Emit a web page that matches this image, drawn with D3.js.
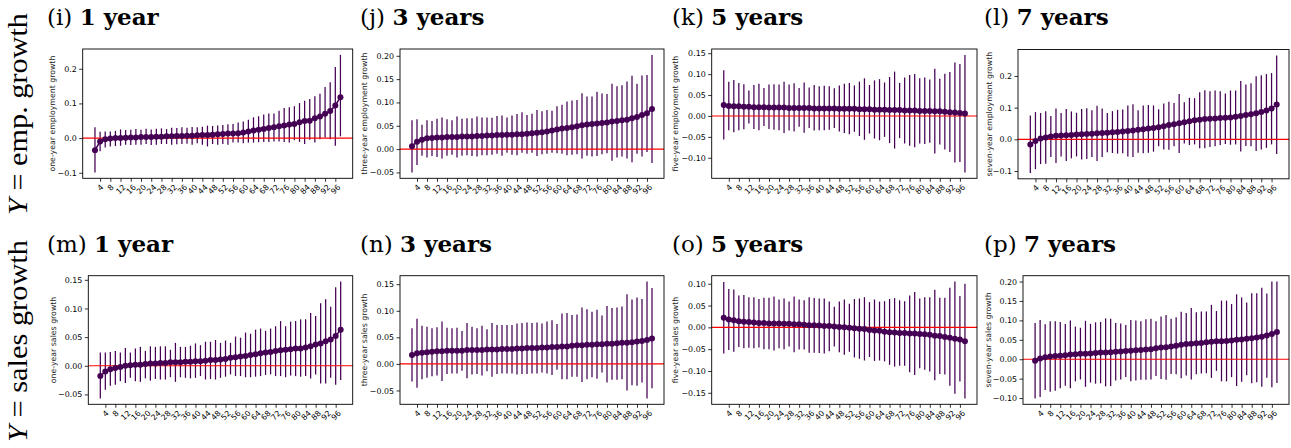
<!DOCTYPE html>
<html>
<head>
<meta charset="utf-8">
<script src="https://cdn.jsdelivr.net/npm/d3@7"></script>
<style>
  body { margin: 0; background: #fff; }
  svg { display: block; }
</style>
</head>
<body>
<svg id="vis" width="1291" height="448"></svg>
<script>
// percentile bins on the x axis
const percentiles = [2,4,6,8,10,12,14,16,18,20,22,24,26,28,30,32,34,36,38,40,
  42,44,46,48,50,52,54,56,58,60,62,64,66,68,70,72,74,76,78,80,
  82,84,86,88,90,92,94,96,98];
const xTicks = [4,8,12,16,20,24,28,32,36,40,44,48,52,56,60,64,68,72,76,80,84,88,92,96];

// Y = employment growth, 1 year
const emp1Mid = [-0.035,-0.010,-0.003,-0.001,0.000,0.000,0.001,0.002,0.002,0.003,
  0.003,0.003,0.004,0.004,0.005,0.005,0.006,0.006,0.007,0.007,
  0.008,0.009,0.009,0.010,0.011,0.012,0.013,0.013,0.014,0.016,
  0.019,0.022,0.024,0.026,0.029,0.031,0.034,0.036,0.039,0.041,
  0.046,0.049,0.050,0.057,0.062,0.070,0.078,0.094,0.118];
const emp1Hi = [0.031,0.018,0.019,0.019,0.021,0.025,0.023,0.024,0.026,0.024,
  0.027,0.025,0.027,0.028,0.026,0.030,0.029,0.031,0.030,0.032,
  0.031,0.033,0.036,0.035,0.036,0.038,0.040,0.041,0.045,0.048,
  0.053,0.060,0.063,0.068,0.071,0.071,0.079,0.087,0.089,0.092,
  0.101,0.108,0.113,0.121,0.128,0.147,0.161,0.205,0.240];
const emp1Lo = [-0.099,-0.038,-0.027,-0.024,-0.023,-0.022,-0.019,-0.020,-0.019,-0.019,
  -0.017,-0.020,-0.019,-0.017,-0.017,-0.019,-0.018,-0.017,-0.016,-0.019,
  -0.015,-0.019,-0.024,-0.017,-0.019,-0.017,-0.019,-0.013,-0.013,-0.015,
  -0.013,-0.013,-0.012,-0.011,-0.011,-0.010,-0.010,-0.011,-0.013,-0.006,
  -0.011,-0.017,-0.005,-0.013,-0.003,0.002,-0.003,-0.022,0.005];

// Y = employment growth, 3 years
const emp3Mid = [0.006,0.016,0.020,0.023,0.024,0.025,0.025,0.026,0.026,0.026,
  0.027,0.027,0.027,0.028,0.028,0.029,0.029,0.030,0.030,0.031,
  0.031,0.032,0.032,0.033,0.034,0.035,0.036,0.038,0.040,0.042,
  0.044,0.045,0.047,0.049,0.051,0.053,0.054,0.055,0.056,0.057,
  0.059,0.060,0.062,0.063,0.066,0.069,0.073,0.077,0.086];
const emp3Hi = [0.062,0.064,0.052,0.062,0.060,0.065,0.068,0.064,0.062,0.070,
  0.065,0.066,0.066,0.070,0.068,0.068,0.067,0.071,0.072,0.068,
  0.072,0.075,0.079,0.073,0.076,0.084,0.081,0.084,0.082,0.092,
  0.095,0.102,0.104,0.105,0.120,0.113,0.113,0.123,0.119,0.118,
  0.140,0.135,0.137,0.145,0.157,0.140,0.158,0.159,0.202];
const emp3Lo = [-0.050,-0.034,-0.014,-0.018,-0.015,-0.017,-0.020,-0.014,-0.012,-0.018,
  -0.014,-0.013,-0.015,-0.016,-0.013,-0.013,-0.012,-0.010,-0.014,-0.008,
  -0.012,-0.013,-0.008,-0.010,-0.008,-0.015,-0.011,-0.010,-0.008,-0.009,
  -0.010,-0.013,-0.012,-0.011,-0.020,-0.014,-0.016,-0.015,-0.011,-0.009,
  -0.025,-0.018,-0.016,-0.020,-0.028,-0.010,-0.016,-0.006,-0.030];

// Y = employment growth, 5 years
const emp5Mid = [0.026,0.024,0.023,0.023,0.022,0.022,0.021,0.021,0.021,0.020,
  0.020,0.020,0.020,0.019,0.019,0.019,0.019,0.019,0.018,0.018,
  0.018,0.018,0.018,0.017,0.017,0.017,0.017,0.016,0.016,0.016,
  0.015,0.015,0.015,0.014,0.014,0.014,0.013,0.013,0.013,0.012,
  0.012,0.012,0.011,0.011,0.010,0.009,0.008,0.007,0.006];
const emp5Hi = [0.109,0.082,0.086,0.079,0.076,0.061,0.074,0.077,0.067,0.075,
  0.076,0.075,0.082,0.075,0.078,0.067,0.080,0.068,0.074,0.071,
  0.072,0.071,0.066,0.073,0.077,0.079,0.073,0.082,0.090,0.074,
  0.085,0.088,0.080,0.093,0.106,0.079,0.092,0.098,0.100,0.090,
  0.092,0.087,0.113,0.089,0.101,0.105,0.128,0.124,0.146];
const emp5Lo = [-0.056,-0.034,-0.039,-0.034,-0.032,-0.018,-0.031,-0.034,-0.024,-0.031,
  -0.033,-0.034,-0.041,-0.035,-0.037,-0.026,-0.040,-0.029,-0.035,-0.034,
  -0.034,-0.033,-0.029,-0.037,-0.041,-0.044,-0.038,-0.048,-0.057,-0.042,
  -0.054,-0.058,-0.050,-0.065,-0.078,-0.053,-0.066,-0.071,-0.075,-0.066,
  -0.067,-0.064,-0.090,-0.068,-0.080,-0.086,-0.111,-0.110,-0.135];

// Y = employment growth, 7 years
const emp7Mid = [-0.016,-0.005,0.003,0.006,0.009,0.011,0.012,0.013,0.014,0.015,
  0.016,0.017,0.018,0.019,0.020,0.021,0.022,0.023,0.025,0.026,
  0.028,0.030,0.032,0.034,0.036,0.038,0.041,0.045,0.048,0.051,
  0.054,0.057,0.060,0.062,0.064,0.065,0.066,0.067,0.068,0.069,
  0.071,0.074,0.077,0.079,0.082,0.086,0.091,0.097,0.110];
const emp7Hi = [0.075,0.086,0.083,0.089,0.074,0.097,0.083,0.096,0.088,0.084,
  0.096,0.098,0.092,0.106,0.097,0.083,0.089,0.093,0.094,0.107,
  0.111,0.092,0.107,0.108,0.107,0.095,0.113,0.119,0.115,0.143,
  0.117,0.131,0.130,0.149,0.155,0.152,0.154,0.152,0.145,0.154,
  0.154,0.184,0.173,0.177,0.199,0.202,0.206,0.209,0.265];
const emp7Lo = [-0.106,-0.094,-0.078,-0.077,-0.056,-0.075,-0.054,-0.068,-0.060,-0.054,
  -0.064,-0.062,-0.056,-0.068,-0.056,-0.041,-0.043,-0.045,-0.044,-0.054,
  -0.056,-0.042,-0.044,-0.042,-0.039,-0.022,-0.032,-0.033,-0.022,-0.043,
  -0.013,-0.018,-0.016,-0.028,-0.028,-0.024,-0.022,-0.018,-0.015,-0.017,
  -0.016,-0.038,-0.021,-0.022,-0.037,-0.032,-0.027,-0.016,-0.046];

// Y = sales growth, 1 year
const sal1Mid = [-0.018,-0.010,-0.006,-0.004,-0.002,0.000,0.001,0.002,0.002,0.003,
  0.004,0.004,0.005,0.005,0.006,0.006,0.006,0.007,0.007,0.008,
  0.008,0.009,0.010,0.010,0.011,0.012,0.014,0.015,0.016,0.017,
  0.019,0.020,0.022,0.023,0.024,0.026,0.027,0.028,0.029,0.030,
  0.030,0.032,0.034,0.037,0.039,0.043,0.046,0.052,0.063];
const sal1Hi = [0.023,0.023,0.024,0.026,0.023,0.031,0.023,0.030,0.033,0.026,
  0.034,0.033,0.034,0.034,0.028,0.040,0.033,0.033,0.035,0.039,
  0.036,0.042,0.042,0.045,0.040,0.044,0.040,0.051,0.049,0.058,
  0.056,0.063,0.065,0.061,0.065,0.069,0.078,0.069,0.077,0.078,
  0.081,0.081,0.092,0.087,0.109,0.116,0.103,0.137,0.147];
const sal1Lo = [-0.057,-0.042,-0.035,-0.033,-0.027,-0.030,-0.021,-0.027,-0.028,-0.022,
  -0.026,-0.023,-0.024,-0.024,-0.020,-0.028,-0.020,-0.021,-0.022,-0.021,
  -0.018,-0.024,-0.023,-0.024,-0.021,-0.019,-0.015,-0.018,-0.018,-0.020,
  -0.020,-0.019,-0.018,-0.016,-0.015,-0.018,-0.018,-0.020,-0.017,-0.018,
  -0.019,-0.018,-0.022,-0.015,-0.031,-0.031,-0.021,-0.033,-0.025];

// Y = sales growth, 3 years
const sal3Mid = [0.017,0.020,0.021,0.022,0.023,0.024,0.024,0.025,0.025,0.025,
  0.025,0.026,0.026,0.026,0.026,0.027,0.027,0.027,0.028,0.028,
  0.028,0.029,0.029,0.030,0.030,0.030,0.031,0.031,0.032,0.032,
  0.033,0.033,0.034,0.035,0.035,0.036,0.036,0.037,0.037,0.038,
  0.038,0.039,0.040,0.040,0.041,0.042,0.043,0.045,0.048];
const sal3Hi = [0.067,0.085,0.072,0.070,0.067,0.069,0.080,0.068,0.067,0.068,
  0.062,0.077,0.070,0.067,0.072,0.065,0.077,0.073,0.073,0.073,
  0.073,0.076,0.077,0.078,0.077,0.078,0.076,0.080,0.082,0.075,
  0.095,0.096,0.092,0.093,0.106,0.103,0.098,0.102,0.091,0.109,
  0.105,0.106,0.108,0.131,0.121,0.125,0.122,0.155,0.143];
const sal3Lo = [-0.033,-0.045,-0.029,-0.026,-0.023,-0.022,-0.032,-0.019,-0.018,-0.018,
  -0.013,-0.027,-0.020,-0.019,-0.022,-0.014,-0.024,-0.019,-0.018,-0.018,
  -0.018,-0.020,-0.019,-0.019,-0.018,-0.018,-0.016,-0.018,-0.021,-0.011,
  -0.029,-0.029,-0.024,-0.024,-0.034,-0.029,-0.025,-0.028,-0.016,-0.035,
  -0.030,-0.030,-0.029,-0.050,-0.040,-0.041,-0.035,-0.065,-0.046];

// Y = sales growth, 5 years
const sal5Mid = [0.022,0.018,0.016,0.014,0.013,0.012,0.011,0.010,0.010,0.009,
  0.009,0.009,0.008,0.008,0.007,0.007,0.006,0.005,0.005,0.004,
  0.003,0.003,0.002,0.001,0.000,-0.001,-0.002,-0.003,-0.004,-0.006,
  -0.007,-0.008,-0.010,-0.011,-0.012,-0.013,-0.013,-0.014,-0.014,-0.015,
  -0.016,-0.017,-0.019,-0.020,-0.022,-0.024,-0.026,-0.028,-0.032];
const sal5Hi = [0.104,0.088,0.087,0.073,0.074,0.069,0.069,0.065,0.068,0.068,
  0.071,0.064,0.066,0.059,0.071,0.064,0.062,0.069,0.067,0.066,
  0.066,0.059,0.047,0.059,0.064,0.054,0.065,0.066,0.069,0.058,
  0.064,0.059,0.060,0.065,0.067,0.062,0.060,0.073,0.081,0.066,
  0.069,0.069,0.086,0.068,0.068,0.091,0.105,0.072,0.100];
const sal5Lo = [-0.060,-0.052,-0.056,-0.045,-0.048,-0.047,-0.048,-0.046,-0.050,-0.050,
  -0.053,-0.048,-0.050,-0.044,-0.057,-0.051,-0.051,-0.058,-0.058,-0.059,
  -0.060,-0.055,-0.044,-0.057,-0.063,-0.056,-0.069,-0.072,-0.076,-0.068,
  -0.077,-0.076,-0.078,-0.086,-0.090,-0.088,-0.088,-0.103,-0.109,-0.094,
  -0.097,-0.101,-0.121,-0.107,-0.108,-0.134,-0.152,-0.124,-0.163];

// Y = sales growth, 7 years
const sal7Mid = [-0.004,0.002,0.005,0.007,0.008,0.009,0.010,0.012,0.013,0.014,
  0.014,0.015,0.016,0.017,0.017,0.018,0.019,0.020,0.021,0.022,
  0.023,0.024,0.025,0.026,0.028,0.030,0.031,0.033,0.035,0.037,
  0.039,0.040,0.041,0.042,0.044,0.045,0.046,0.046,0.047,0.048,
  0.050,0.051,0.053,0.054,0.056,0.058,0.061,0.065,0.070];
const sal7Hi = [0.093,0.101,0.090,0.098,0.098,0.096,0.091,0.100,0.084,0.081,
  0.099,0.091,0.095,0.096,0.105,0.104,0.093,0.092,0.088,0.101,
  0.100,0.098,0.103,0.104,0.098,0.110,0.114,0.104,0.108,0.122,
  0.119,0.132,0.121,0.123,0.123,0.140,0.124,0.151,0.151,0.142,
  0.167,0.159,0.146,0.170,0.170,0.184,0.169,0.200,0.200];
const sal7Lo = [-0.101,-0.097,-0.079,-0.084,-0.081,-0.075,-0.068,-0.075,-0.057,-0.052,
  -0.071,-0.060,-0.063,-0.062,-0.070,-0.069,-0.055,-0.052,-0.046,-0.057,
  -0.055,-0.053,-0.053,-0.052,-0.043,-0.051,-0.053,-0.038,-0.039,-0.049,
  -0.042,-0.052,-0.039,-0.037,-0.036,-0.048,-0.030,-0.057,-0.057,-0.046,
  -0.069,-0.058,-0.041,-0.062,-0.059,-0.071,-0.048,-0.072,-0.061];

// y tick labels of each panel
const ticksA = [-0.1, 0.0, 0.1, 0.2];
const ticksB = [-0.05, 0.00, 0.05, 0.10, 0.15, 0.20];
const ticksC = [-0.10, -0.05, 0.00, 0.05, 0.10, 0.15];
const ticksD = [-0.05, 0.00, 0.05, 0.10, 0.15];
const ticksE = [-0.15, -0.10, -0.05, 0.00, 0.05, 0.10];
const ticksF = [-0.10, -0.05, 0.00, 0.05, 0.10, 0.15, 0.20];

const rowLabels = ["emp. growth", "sales growth"];

const panels = [
  {tag: "(i)", head: "1 year", ylab: "one-year employment growth", mid: emp1Mid, lo: emp1Lo, hi: emp1Hi, ticks: ticksA, fmt: ".1f",
   box: [82.7, 49, 352.7, 178.3], labX: 52.3, tx: 47, ty: 25},
  {tag: "(j)", head: "3 years", ylab: "three-year employment growth", mid: emp3Mid, lo: emp3Lo, hi: emp3Hi, ticks: ticksB, fmt: ".2f",
   box: [400, 49, 664, 178.3], labX: 364.3, tx: 360, ty: 25},
  {tag: "(k)", head: "5 years", ylab: "five-year employment growth", mid: emp5Mid, lo: emp5Lo, hi: emp5Hi, ticks: ticksC, fmt: ".2f",
   box: [711.7, 49, 977, 178.3], labX: 675, tx: 672, ty: 25},
  {tag: "(l)", head: "7 years", ylab: "seven-year employment growth", mid: emp7Mid, lo: emp7Lo, hi: emp7Hi, ticks: ticksA, fmt: ".1f",
   box: [1018, 49.5, 1289, 178.8], labX: 989, tx: 984, ty: 25},
  {tag: "(m)", head: "1 year", ylab: "one-year sales growth", mid: sal1Mid, lo: sal1Lo, hi: sal1Hi, ticks: ticksD, fmt: ".2f",
   box: [88.3, 275.7, 352.7, 404.3], labX: 53.3, tx: 47, ty: 252},
  {tag: "(n)", head: "3 years", ylab: "three-year sales growth", mid: sal3Mid, lo: sal3Lo, hi: sal3Hi, ticks: ticksD, fmt: ".2f",
   box: [400, 275.7, 664, 404.3], labX: 364.3, tx: 360, ty: 252},
  {tag: "(o)", head: "5 years", ylab: "five-year sales growth", mid: sal5Mid, lo: sal5Lo, hi: sal5Hi, ticks: ticksE, fmt: ".2f",
   box: [711.7, 275.7, 977, 404.3], labX: 675, tx: 672, ty: 252},
  {tag: "(p)", head: "7 years", ylab: "seven-year sales growth", mid: sal7Mid, lo: sal7Lo, hi: sal7Hi, ticks: ticksF, fmt: ".2f",
   box: [1023, 275.7, 1289, 404.3], labX: 988.3, tx: 984, ty: 252}
];

const purple = "#440154";
const sans = "DejaVu Sans";
const svg = d3.select("#vis");

// row labels on the far left
[{y: 114, text: rowLabels[0]}, {y: 341, text: rowLabels[1]}].forEach(r => {
  let t = svg.append("text")
    .attr("transform", `translate(27,${r.y}) rotate(-90)`)
    .attr("text-anchor", "middle")
    .attr("font-family", "Liberation Serif")
    .attr("font-size", 27)
    .attr("textLength", 202)
    .attr("lengthAdjust", "spacingAndGlyphs");
  t.append("tspan").attr("font-style", "italic").text("Y");
  t.append("tspan").text(" = " + r.text);
});

panels.forEach(drawPanel);

function drawPanel(p) {
  let [x0, y0, x1, y1] = p.box;
  let g = svg.append("g");

  let x = d3.scaleLinear().domain([-2.8, 102.8]).range([x0, x1]);
  // matplotlib style 5% margin around the error bars
  let lo = d3.min(p.lo), hi = d3.max(p.hi), pad = (hi - lo) * 0.05;
  let y = d3.scaleLinear().domain([lo - pad, hi + pad]).range([y1, y0]);

  // title
  let title = g.append("text")
    .attr("x", p.tx).attr("y", p.ty)
    .attr("font-family", "DejaVu Serif")
    .attr("font-size", 23);
  title.append("tspan").text(p.tag + " ");
  title.append("tspan").attr("font-weight", "bold").text(p.head);

  // error bars
  g.append("g").selectAll("line")
    .data(percentiles)
    .join("line")
    .attr("x1", d => x(d)).attr("x2", d => x(d))
    .attr("y1", (d, i) => y(p.lo[i]))
    .attr("y2", (d, i) => y(p.hi[i]))
    .attr("stroke", purple)
    .attr("stroke-width", 1.25);

  // zero line
  g.append("line")
    .attr("x1", x0).attr("x2", x1)
    .attr("y1", y(0)).attr("y2", y(0))
    .attr("stroke", "#f00")
    .attr("stroke-width", 1.1);

  // point estimates
  let line = d3.line().x(d => x(d)).y((d, i) => y(p.mid[i]));
  g.append("path")
    .datum(percentiles)
    .attr("d", line)
    .attr("fill", "none")
    .attr("stroke", purple)
    .attr("stroke-width", 1.5);

  g.append("g").selectAll("circle")
    .data(percentiles)
    .join("circle")
    .attr("cx", d => x(d))
    .attr("cy", (d, i) => y(p.mid[i]))
    .attr("r", 3)
    .attr("fill", purple);

  // y axis
  let yAxis = d3.axisLeft(y)
    .tickValues(p.ticks)
    .tickFormat(d3.format(p.fmt))
    .tickSize(3.5)
    .tickPadding(2.5);
  let gy = g.append("g").attr("transform", `translate(${x0},0)`).call(yAxis);
  gy.select(".domain").remove();
  gy.selectAll("line").attr("stroke", "#000").attr("stroke-width", 0.8);
  gy.selectAll("text").attr("font-family", sans).attr("font-size", 7.9).attr("fill", "#000");

  // x axis, labels rotated by hand
  let xAxis = d3.axisBottom(x).tickValues(xTicks).tickSize(3.5).tickFormat("");
  let gx = g.append("g").attr("transform", `translate(0,${y1})`).call(xAxis);
  gx.select(".domain").remove();
  gx.selectAll("line").attr("stroke", "#000").attr("stroke-width", 0.8);
  gx.selectAll(".tick").each(function(d) {
    let t = d3.select(this).append("text")
      .attr("font-family", sans)
      .attr("font-size", 7.8)
      .attr("fill", "#000")
      .attr("text-anchor", "middle")
      .attr("dominant-baseline", "central")
      .text(d);
    let w = t.node().getComputedTextLength();
    let half = (w + 7.8) * 0.7071 / 2;
    t.attr("transform", `translate(0,${5 + half}) rotate(-45)`);
  });

  // y label
  g.append("text")
    .attr("transform", `translate(${p.labX},${(y0 + y1) / 2}) rotate(-90)`)
    .attr("text-anchor", "middle")
    .attr("dominant-baseline", "central")
    .attr("font-family", sans)
    .attr("font-size", 7.8)
    .attr("fill", "#222")
    .text(p.ylab);

  // frame
  g.append("rect")
    .attr("x", x0).attr("y", y0)
    .attr("width", x1 - x0).attr("height", y1 - y0)
    .attr("fill", "none")
    .attr("stroke", "#000")
    .attr("stroke-width", 0.9);
}
</script>
</body>
</html>
